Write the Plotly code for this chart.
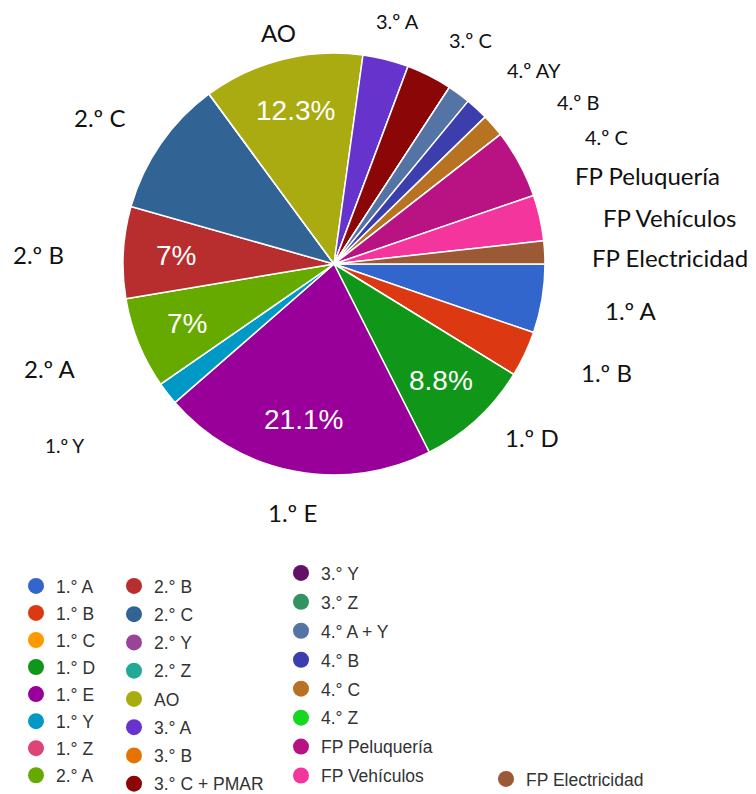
import math
import plotly.graph_objects as go

# ---------------- data ----------------
categories = ["1.° A", "1.° B", "1.° C", "1.° D", "1.° E", "1.° Y", "1.° Z",
              "2.° A", "2.° B", "2.° C", "2.° Y", "2.° Z", "AO",
              "3.° A", "3.° B", "3.° C + PMAR", "3.° Y", "3.° Z",
              "4.° A + Y", "4.° B", "4.° C", "4.° Z",
              "FP Peluquería", "FP Vehículos", "FP Electricidad"]
students = [3, 2, 0, 5, 12, 1, 0,
            4, 4, 6, 0, 0, 7,
            2, 0, 2, 0, 0,
            1, 1, 1, 0,
            3, 2, 1]
colors = ["#3366cc", "#dc3912", "#ff9900", "#109618", "#990099", "#0099c6", "#dd4477",
          "#66aa00", "#b82e2e", "#316395", "#994499", "#22aa99", "#aaaa11",
          "#6633cc", "#e67300", "#8b0707", "#651067", "#329262",
          "#5574a6", "#3b3eac", "#b77322", "#16d620",
          "#b91383", "#f4359e", "#9c5935"]
pct_labelled = ["1.° D", "1.° E", "2.° A", "2.° B", "AO"]

outer_labels = ["AO", "3.º A", "3.º C", "4.º AY", "4.º B", "4.º C",
                "FP Peluquería", "FP Vehículos", "FP Electricidad",
                "1.º A", "1.º B", "1.º D", "1.º E", "1.º Y",
                "2.º A", "2.º B", "2.º C"]

# ---------------- layout constants ----------------
W, H = 756, 794
PIE_X = (123, 545)   # pixel extent of pie domain
PIE_Y = (53, 475)
TEXT_R = 0.75        # radial position of in-slice percentages (fraction of radius)
TEXT_DY = 0

outer_pos = [(278, 33), (397, 21), (470, 40), (534, 70), (578, 102), (606, 137),
             (647, 175), (669, 217), (670, 257),
             (631, 311), (606, 373), (532, 438), (292, 512), (64, 445),
             (50, 368), (38, 254), (99, 117)]
outer_size = [24, 20, 20, 20, 20, 20,
              24, 24, 24,
              24, 24, 24, 24, 19,
              24, 24, 24]

total = sum(students)


def pct_text(v):
    s = f"{v / total * 100:.1f}"
    if s.endswith(".0"):
        s = s[:-2]
    return s + "%"


fig = go.Figure()
fig.add_trace(go.Pie(
    labels=categories, values=students, sort=False, direction="clockwise",
    rotation=90, marker=dict(colors=colors, line=dict(color="white", width=1.5)),
    textinfo="none", showlegend=False, hoverinfo="label+value+percent",
    domain=dict(x=[PIE_X[0] / W, PIE_X[1] / W], y=[1 - PIE_Y[1] / H, 1 - PIE_Y[0] / H]),
))

# legend columns (Google-Charts-like circle legend)
columns = [(categories[0:8], 16, 568, 1.3, "legend"),
           (categories[8:16], 114, 568, 2.5, "legend2"),
           (categories[16:24], 281, 555, 3.2, "legend3"),
           (categories[24:], 486, 761, 2.0, "legend4")]
for names, lx, ly, gap, lg in columns:
    for n in names:
        i = categories.index(n)
        fig.add_trace(go.Scatter(
            x=[None], y=[None], mode="markers", name=n, legend=lg, legendgroup=n,
            marker=dict(symbol="circle", size=16, color=colors[i]),
            hoverinfo="skip"))

legend_font = dict(family="Liberation Sans, Arial, sans-serif", size=17.5, color="#333333")
leg_layout = {}
for names, lx, ly, gap, lg in columns:
    leg_layout[lg] = dict(x=lx / W, y=1 - ly / H, xanchor="left", yanchor="top",
                          orientation="v", font=legend_font, bgcolor="rgba(0,0,0,0)",
                          tracegroupgap=gap, borderwidth=0, itemclick=False,
                          itemdoubleclick=False)

annotations = []
# percentage labels inside slices, placed along each slice's mid-angle
cx = (PIE_X[0] + PIE_X[1]) / 2
cy = (PIE_Y[0] + PIE_Y[1]) / 2
R = min(PIE_X[1] - PIE_X[0], PIE_Y[1] - PIE_Y[0]) / 2
cum = 0
for c, v in zip(categories, students):
    mid = (cum + v / 2) / total * 2 * math.pi   # clockwise from 3 o'clock
    cum += v
    if c in pct_labelled:
        px = cx + TEXT_R * R * math.cos(mid)
        py = cy + TEXT_R * R * math.sin(mid) + TEXT_DY
        annotations.append(dict(x=px / W, y=1 - py / H, xref="paper", yref="paper",
                                text=pct_text(v), showarrow=False,
                                xanchor="center", yanchor="middle",
                                font=dict(family="Liberation Sans, Arial, sans-serif",
                                          size=28, color="white")))

for t, (px, py), fs in zip(outer_labels, outer_pos, outer_size):
    annotations.append(dict(x=px / W, y=1 - py / H, xref="paper", yref="paper",
                            text=t, showarrow=False, xanchor="center", yanchor="middle",
                            font=dict(family="Lato, Open Sans, sans-serif", size=fs,
                                      color="#111111")))

fig.update_layout(
    width=W, height=H, margin=dict(l=0, r=0, t=0, b=0, autoexpand=False),
    paper_bgcolor="white", plot_bgcolor="white",
    xaxis=dict(visible=False), yaxis=dict(visible=False),
    annotations=annotations, **leg_layout,
)

post = ("document.documentElement.style.overflow='hidden';"
        "document.body.style.margin='0';document.body.style.overflow='hidden';"
        "document.querySelectorAll('.plotly-graph-div').forEach(function(d){"
        "d.style.overflow='hidden';});")
fig.write_html("out.html", config={"displayModeBar": False}, post_script=post)
